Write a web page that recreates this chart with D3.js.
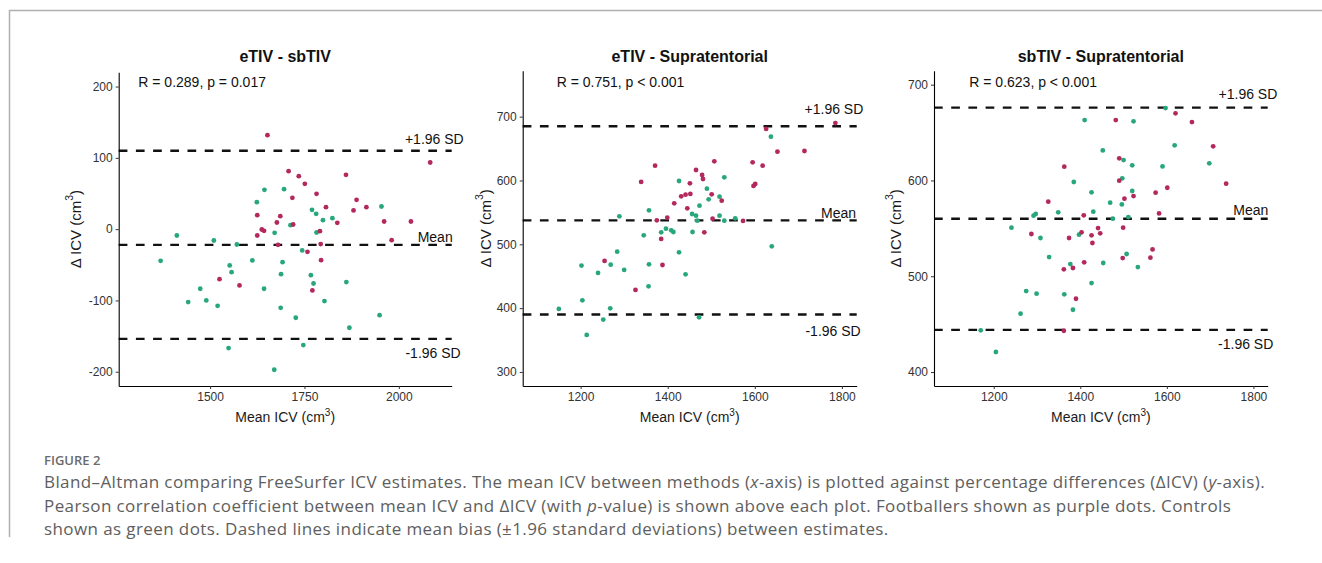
<!DOCTYPE html>
<html>
<head>
<meta charset="utf-8">
<script src="https://cdn.jsdelivr.net/npm/d3@7/dist/d3.min.js"></script>
<style>
  body { margin: 0; background: #fff; }
  svg text { font-family: "Liberation Sans", Arial, Helvetica, sans-serif; }
  .caption text { font-family: "Open Sans", "Noto Sans", sans-serif; }
</style>
</head>
<body>
<svg id="fig" width="1322" height="563"></svg>
<script>
// ---- data: [mean ICV, delta ICV] ----
// eTIV - sbTIV
var p1Footballers = [
  [1652,131.8],[2083,93.5],[1708,81.3],[1735,74.3],[1751,63.6],[1860,76.2],[1782,49.5],
  [1718,43.9],[1888,41.1],[1807,30.8],[1914,30.8],[1880,26.2],[1625,19.6],[1686,18.2],
  [1677,9.3],[1720,6.5],[1837,8.9],[1961,10.7],[2032,10.7],[1637,-0.5],[1643,-2.3],
  [1625,-8.9],[1791,-2.8],[1981,-15.4],[1680,-22],[1793,-21],[1758,-31.8],[1794,-43.5],
  [1525,-70.1],[1578,-79],[1771,-86]
];
var p1Controls = [
  [1644,55.1],[1696,56.1],[1624,37.9],[1770,27.1],[1781,21.5],[1954,31.8],[1824,15.4],
  [1799,12.6],[1713,5.6],[1671,-5.1],[1782,-4.7],[1412,-8.9],[1510,-15.9],[1571,-21.5],
  [1744,-29.9],[1369,-44.4],[1612,-43.9],[1692,-46.3],[1552,-50.9],[1557,-60.3],[1688,-63.1],
  [1767,-64.5],[1774,-76.2],[1861,-74.3],[1474,-83.6],[1643,-83.6],[1442,-102.3],[1490,-100],
  [1520,-107.5],[1803,-100.9],[1687,-110.3],[1727,-124.3],[1949,-120.6],[1869,-138.3],
  [1549,-166.8],[1747,-162.6],[1670,-197.2]
];
// eTIV - Supratentorial
var p2Footballers = [
  [1785,690],[1626,680.7],[1652,645.2],[1714,646.2],[1507,630],[1371,623.2],[1595,628.5],
  [1618,623.2],[1465,616.4],[1479,608.6],[1481,602.3],[1339,597.7],[1451,595.6],[1601,594.5],
  [1597,591.4],[1452,578.9],[1441,577.8],[1431,575.2],[1501,578.3],[1524,568.4],[1415,564.2],
  [1445,556.4],[1503,540.2],[1399,541.8],[1375,537.6],[1573,536.6],[1484,518.8],[1385,508.4],
  [1255,473.9],[1388,467.6],[1326,428.5]
];
var p2Controls = [
  [1637,668.7],[1530,605],[1426,599.2],[1490,587.2],[1494,570.5],[1519,574.7],[1473,560.6],
  [1357,553.3],[1289,543.9],[1456,547.5],[1465,544.9],[1519,544.9],[1468,537.1],[1530,537.1],
  [1555,540.7],[1396,524.5],[1408,521.9],[1413,519.3],[1385,518.8],[1457,519.3],[1345,514.1],
  [1639,496.9],[1284,488.5],[1426,487.5],[1202,466.6],[1269,468.1],[1357,468.7],[1300,459.8],
  [1240,455.1],[1441,453],[1356,434.2],[1204,412.3],[1150,398.7],[1268,399.7],[1252,382],
  [1472,385.6],[1214,358]
];
// sbTIV - Supratentorial
var p3Footballers = [
  [1620,670.1],[1482,663.1],[1658,661],[1707,635.6],[1490,623.1],[1363,614.4],[1737,596.6],
  [1601,592.4],[1490,599.8],[1574,587.2],[1523,583.7],[1502,581],[1326,577.8],[1582,565.6],
  [1408,563.6],[1441,550.3],[1499,550.7],[1403,545.8],[1446,544.8],[1287,544.1],[1426,542.7],
  [1374,539.9],[1428,534.7],[1567,528],[1409,514.5],[1498,519],[1562,519.4],[1383,508.6],
  [1362,507.2],[1390,476.5],[1362,443.1]
];
var p3Controls = [
  [1597,675.6],[1410,663.1],[1523,661.7],[1452,631.4],[1618,636.7],[1500,621.3],[1520,615.8],
  [1590,614.7],[1698,617.9],[1385,598.4],[1497,602.2],[1426,587.6],[1520,589],[1469,576.8],
  [1496,575],[1349,566.7],[1430,567.4],[1292,563.2],[1297,565],[1475,560.1],[1511,561.8],
  [1241,550.7],[1308,539.9],[1397,543.4],[1328,520],[1377,512.7],[1453,513.8],[1507,523.2],
  [1533,509.6],[1426,492.9],[1275,484.5],[1299,481.8],[1363,481.1],[1383,465],[1262,460.9],
  [1170,443.5],[1205,420.9]
];

// limits of agreement: [+1.96 SD, mean, -1.96 SD]
var p1Limits = [110, -22, -154];
var p2Limits = [685, 537.5, 390];
var p3Limits = [676, 560, 444];

var titles = ["eTIV - sbTIV", "eTIV - Supratentorial", "sbTIV - Supratentorial"];
var corrText = ["R = 0.289, p = 0.017", "R = 0.751, p < 0.001", "R = 0.623, p < 0.001"];
var limitLabels = ["+1.96 SD", "Mean", "-1.96 SD"];

var p1XTicks = [1500, 1750, 2000], p1YTicks = [-200, -100, 0, 100, 200];
var p2XTicks = [1200, 1400, 1600, 1800], p2YTicks = [300, 400, 500, 600, 700];
var p3XTicks = [1200, 1400, 1600, 1800], p3YTicks = [400, 500, 600, 700];

var captionHead = "FIGURE 2";
var captionLines = [
  [["Bland\u2013Altman comparing FreeSurfer ICV estimates. The mean ICV between methods ("], ["x", 1], ["-axis) is plotted against percentage differences (\u0394ICV) ("], ["y", 1], ["-axis)."]],
  [["Pearson correlation coefficient between mean ICV and \u0394ICV (with "], ["p", 1], ["-value) is shown above each plot. Footballers shown as purple dots. Controls"]],
  [["shown as green dots. Dashed lines indicate mean bias (\u00b11.96 standard deviations) between estimates."]]
];

// ---- layout ----
var purple = "#b3285d", green = "#27a77a";

var panels = [
  { foot: p1Footballers, ctrl: p1Controls, lim: p1Limits, xt: p1XTicks, yt: p1YTicks,
    xd: [1258, 2140], yd: [-220, 220], box: [118.7, 451.7, 72.3, 386],
    lab: [[12, -11.7], [1, -8], [9, 13.7]], corrDx: 19.6, ytDx: 44 },
  { foot: p2Footballers, ctrl: p2Controls, lim: p2Limits, xt: p2XTicks, yt: p2YTicks,
    xd: [1067, 1834], yd: [278, 772], box: [522.7, 856.7, 70.7, 386],
    lab: [[6.6, -17], [-0.7, -7.6], [4, 16]], corrDx: 34, ytDx: 38 },
  { foot: p3Footballers, ctrl: p3Controls, lim: p3Limits, xt: p3XTicks, yt: p3YTicks,
    xd: [1062, 1833], yd: [385.4, 714.6], box: [934, 1267.7, 70.7, 386],
    lab: [[9.6, -13.3], [0.6, -8.7], [5.6, 14.3]], corrDx: 35.3, ytDx: 39 }
];

var svg = d3.select("#fig");
svg.append("rect").attr("width", 1322).attr("height", 563).attr("fill", "#fff");

// page frame
svg.append("path")
  .attr("d", "M9.5,537V10.5H1322")
  .attr("fill", "none")
  .attr("stroke", "#b0b0b0")
  .attr("stroke-width", 1.5);

panels.forEach(function(p, i) {
  var x = d3.scaleLinear().domain(p.xd).range([p.box[0], p.box[1]]);
  var y = d3.scaleLinear().domain(p.yd).range([p.box[3], p.box[2]]);
  var g = svg.append("g");

  // limits of agreement
  g.selectAll("line.lim")
    .data(p.lim)
    .enter().append("line")
    .attr("class", "lim")
    .attr("x1", p.box[0]).attr("x2", p.box[1])
    .attr("y1", function(d) { return y(d); })
    .attr("y2", function(d) { return y(d); })
    .attr("stroke", "#111")
    .attr("stroke-width", 2.3)
    .attr("stroke-dasharray", "8.7,8.5");

  g.selectAll("text.lim")
    .data(p.lim)
    .enter().append("text")
    .attr("class", "lim")
    .attr("x", function(d, j) { return p.box[1] + p.lab[j][0]; })
    .attr("y", function(d, j) { return y(d) + p.lab[j][1]; })
    .attr("text-anchor", "end")
    .attr("dominant-baseline", "central")
    .attr("font-size", 14)
    .attr("fill", "#111")
    .text(function(d, j) { return limitLabels[j]; });

  // points
  g.selectAll("circle.ctrl")
    .data(p.ctrl)
    .enter().append("circle")
    .attr("cx", function(d) { return x(d[0]); })
    .attr("cy", function(d) { return y(d[1]); })
    .attr("r", 2.4)
    .attr("fill", green);
  g.selectAll("circle.foot")
    .data(p.foot)
    .enter().append("circle")
    .attr("cx", function(d) { return x(d[0]); })
    .attr("cy", function(d) { return y(d[1]); })
    .attr("r", 2.4)
    .attr("fill", purple);

  // axes
  var xa = g.append("g")
    .attr("transform", "translate(0," + p.box[3] + ")")
    .call(d3.axisBottom(x).tickValues(p.xt).tickSize(3).tickSizeOuter(0).tickPadding(3).tickFormat(d3.format("d")));
  var ya = g.append("g")
    .attr("transform", "translate(" + p.box[0] + ",0)")
    .call(d3.axisLeft(y).tickValues(p.yt).tickSize(3).tickSizeOuter(0).tickPadding(3).tickFormat(d3.format("d")));
  [xa, ya].forEach(function(a) {
    a.select(".domain").attr("stroke", "#000").attr("stroke-width", 1.1);
    a.selectAll(".tick line").attr("stroke", "#333");
    a.selectAll(".tick text").attr("font-size", 12).attr("fill", "#333")
      .attr("font-family", "\"Liberation Sans\", Arial, sans-serif");
  });
  ya.selectAll(".tick text").text(function(d) { return d < 0 ? "-" + Math.abs(d) : d; });

  // title and correlation
  var cx = (p.box[0] + p.box[1]) / 2;
  g.append("text")
    .attr("x", cx).attr("y", 61.7)
    .attr("text-anchor", "middle")
    .attr("font-size", 16).attr("font-weight", "bold").attr("fill", "#111")
    .text(titles[i]);
  g.append("text")
    .attr("x", p.box[0] + p.corrDx).attr("y", 86.6)
    .attr("font-size", 14).attr("fill", "#111")
    .text(corrText[i]);

  // axis titles
  var xt = g.append("text")
    .attr("x", cx).attr("y", 421.5)
    .attr("text-anchor", "middle")
    .attr("font-size", 14).attr("fill", "#1a1a1a");
  xt.append("tspan").text("Mean ICV (cm");
  xt.append("tspan").attr("dy", -6).attr("font-size", 10).text("3");
  xt.append("tspan").attr("dy", 6).text(")");

  var ty = (p.box[2] + p.box[3]) / 2;
  var tx = p.box[0] - p.ytDx;
  var yt = g.append("text")
    .attr("transform", "translate(" + tx + "," + ty + ") rotate(-90)")
    .attr("text-anchor", "middle")
    .attr("dominant-baseline", "central")
    .attr("font-size", 15).attr("fill", "#1a1a1a");
  yt.append("tspan").text("\u0394 ICV (cm");
  yt.append("tspan").attr("dy", -6).attr("font-size", 10.5).text("3");
  yt.append("tspan").attr("dy", 6).text(")");
});

// caption
var cap = svg.append("g").attr("class", "caption");
cap.append("text")
  .attr("x", 44).attr("y", 465)
  .attr("font-size", 13).attr("font-weight", 600).attr("fill", "#6b6b6b")
  .text(captionHead);
captionLines.forEach(function(line, k) {
  var t = cap.append("text")
    .attr("x", 44).attr("y", 488 + k * 23.5)
    .attr("font-size", 17).attr("letter-spacing", 0.4).attr("fill", "#5e5e5e");
  line.forEach(function(seg) {
    t.append("tspan").attr("font-style", seg[1] ? "italic" : null).text(seg[0]);
  });
});
</script>
</body>
</html>
